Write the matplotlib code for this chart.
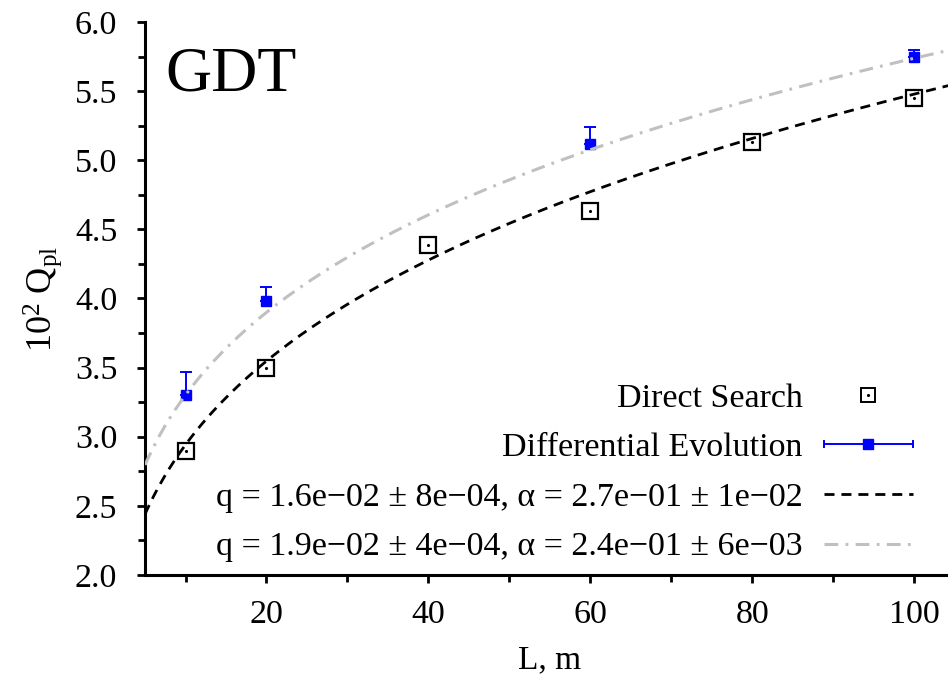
import numpy as np
import matplotlib
matplotlib.use('Agg')
import matplotlib.pyplot as plt
from matplotlib.lines import Line2D
from matplotlib.legend_handler import HandlerLine2D, HandlerTuple

plt.rcParams['font.family'] = ['Liberation Serif', 'DejaVu Serif']
plt.rcParams['mathtext.fontset'] = 'custom'
plt.rcParams['mathtext.rm'] = 'Liberation Serif'
plt.rcParams['mathtext.it'] = 'Liberation Serif:italic'

# --- data ---
L_ds = [10, 20, 40, 60, 80, 100]
Q_ds = [2.90, 3.50, 4.39, 4.63, 5.13, 5.45]

L_de = [10, 20, 60, 100]
Q_de = [3.30, 3.98, 5.12, 5.75]
err_lo = [0.0, 0.0, 0.0, 0.0]
err_hi = [0.17, 0.10, 0.12, 0.05]

# fit parameters  Q = q * L^alpha  (plotted as 10^2 Q)
fit_ds = (1.58e-2, 2.7e-1)
fit_de = (1.9e-2, 2.4e-1)
lab_ds = 'q = 1.6e\u221202 \u00b1 8e\u221204, \u03b1 = 2.7e\u221201 \u00b1 1e\u221202'
lab_de = 'q = 1.9e\u221202 \u00b1 4e\u221204, \u03b1 = 2.4e\u221201 \u00b1 6e\u221203'

fig = plt.figure(figsize=(9.48, 6.84), dpi=100)
ax = fig.add_axes([0.153, 0.1594, 0.854, 0.8084])

Lfit = np.linspace(5, 106, 300)
ax.plot(Lfit, 100 * fit_ds[0] * Lfit ** fit_ds[1], color='black', lw=2.0,
        dashes=(3.6, 2.5), zorder=4)
ax.plot(Lfit, 100 * fit_de[0] * Lfit ** fit_de[1], color='#c0c0c0', lw=2.2,
        dashes=(4.5, 2.4, 0.9, 2.4), zorder=4)

# direct search: open squares with a dot in the middle
ax.plot(L_ds, Q_ds, ls='none', marker='s', ms=11.5, mfc='white', mec='black',
        mew=1.6, zorder=3)
ax.plot(L_ds, Q_ds, ls='none', marker='.', ms=2.5, color='black', zorder=3)

# differential evolution with error bars
ax.errorbar(L_de, Q_de, yerr=[err_lo, err_hi], fmt='s', ms=6.5, color='#0000ff',
            ecolor='#0000ff', elinewidth=1.4, capsize=4, capthick=1.4, zorder=3)

ax.set_xlim(5, 105)
ax.set_ylim(2.0, 6.0)
ax.set_xticks([20, 40, 60, 80, 100])
ax.set_xticks(np.arange(10, 101, 20), minor=True)
ax.set_yticks(np.arange(2.0, 6.01, 0.5))
ax.set_yticks(np.arange(2.25, 6.0, 0.5), minor=True)
ax.yaxis.set_major_formatter(matplotlib.ticker.FormatStrFormatter('%.1f'))

for side in ['top', 'right']:
    ax.spines[side].set_visible(False)
for side in ['left', 'bottom']:
    ax.spines[side].set_linewidth(2.2)
ax.tick_params(which='major', direction='out', length=6, width=2, labelsize=24.5)
ax.tick_params(which='minor', direction='out', length=5, width=2)
ax.tick_params(axis='y', which='major', pad=14)
ax.tick_params(axis='x', which='major', pad=12)

ax.set_xlabel('L, m', fontsize=24, labelpad=10)
ax.set_ylabel('10$^2$ Q$_{\\rm pl}$', fontsize=26, labelpad=8)

ax.text(0.025, 0.877, 'GDT', transform=ax.transAxes, fontsize=46,
        va='baseline', ha='left')

# legend (gnuplot style: text right-aligned, sample on the right)
h_ds = Line2D([], [], ls='none', marker='s', ms=10.5, mfc='white', mec='black', mew=1.4)
h_ds_dot = Line2D([], [], ls='none', marker='.', ms=2.5, color='black')
h_de_bar = Line2D([], [], color='#0000ff', lw=1.4, marker='|', ms=6, mew=1.4)
h_de_sq = Line2D([], [], ls='none', marker='s', ms=6.5, color='#0000ff')
h_fit1 = Line2D([], [], color='black', lw=2.0, dashes=(3.6, 2.5))
h_fit2 = Line2D([], [], color='#c0c0c0', lw=2.2, dashes=(4.5, 2.4, 0.9, 2.4))

leg = ax.legend([(h_ds, h_ds_dot), (h_de_bar, h_de_sq), h_fit1, h_fit2],
                ['Direct Search', 'Differential Evolution', lab_ds, lab_de],
                handler_map={tuple: HandlerTuple(ndivide=1, pad=0),
                             h_de_bar: HandlerLine2D(numpoints=2, marker_pad=0)},
                loc='lower right', bbox_to_anchor=(0.965, -0.002),
                borderaxespad=0, frameon=False, fontsize=24.5, markerfirst=False,
                handlelength=2.6, handletextpad=0.64, labelspacing=0.55,
                numpoints=1)
for t in leg.get_texts():
    t.set_ha('right')

fig.savefig('out.png', dpi=100)
